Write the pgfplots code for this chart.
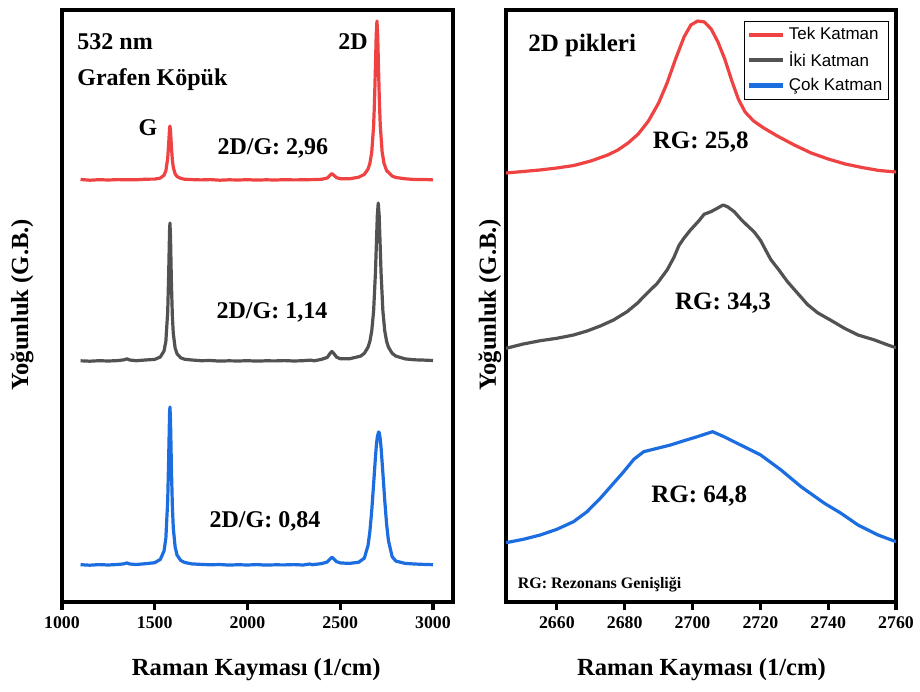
\documentclass[border=0pt]{standalone}
\usepackage{fontspec}
\setmainfont{Liberation Serif}
\newfontfamily\legfont{Liberation Sans}
\usepackage{pgfplots}
\pgfplotsset{compat=1.18}

\definecolor{tek}{RGB}{239,66,66}
\definecolor{iki}{RGB}{82,82,82}
\definecolor{cok}{RGB}{28,110,224}

\pgfplotsset{
  ramanax/.style={
    scale only axis, height=296pt, ymin=0, ymax=592,
    axis line style={line width=2pt},
    ytick=\empty, xtick pos=bottom, tick align=outside,
    major tick length=4pt,
    every tick/.style={black, line width=1.6pt},
    ticklabel style={font=\fontsize{8.9}{9}\selectfont\bfseries},
    /pgf/number format/assume math mode=true,
    /pgf/number format/1000 sep={},
    xlabel={Raman Kayması (1/cm)},
    ylabel={Yoğunluk (G.B.)},
    label style={font=\fontsize{12.3}{13}\selectfont\bfseries},
    every axis plot/.append style={no marks, line width=1.6pt, line join=round},
  },
}

\begin{document}
\begin{tikzpicture}
\path[use as bounding box] (-31pt,-44.5pt) rectangle (429pt,301pt);

% left panel: full spectra
\begin{axis}[ramanax,
  at={(0pt,0pt)}, anchor=south west,
  width=195.5pt,
  xmin=1000, xmax=3108,
  xtick={1000,1500,2000,2500,3000},
  xlabel style={at={(axis description cs:0.497,-0.115)}, anchor=center},
  ylabel style={at={(axis description cs:-0.102,0.502)}, anchor=center},
]
\addplot[tek] coordinates {
(1100,422.5) (1150,421.8) (1200,422.3) (1250,422.0) (1300,422.4) (1350,422.2)
(1400,422.2) (1450,422.8) (1500,422.9) (1530,423.9) (1550,426.8) (1560,431.2)
(1570,444) (1575,458) (1580,474) (1582,476) (1585,471.5) (1590,455) (1595,442)
(1600,434.7) (1610,428.1) (1620,425.5) (1640,423.6) (1660,422.8) (1700,422.4)
(1750,422.1) (1800,422.4) (1850,421.8) (1900,422.2) (1950,422.0) (2000,422.3)
(2050,421.9) (2100,422.2) (2150,422.0) (2200,422.3) (2250,422.1) (2300,422.2)
(2350,422.4) (2400,422.7) (2430,424) (2445,426.6) (2455,428.5) (2465,426.8)
(2480,424.4) (2500,423.3) (2550,423.2) (2600,424.8) (2630,427.6) (2650,432.9)
(2660,438.7) (2670,450) (2680,476) (2685,501.5) (2690,537) (2694,567) (2698,581)
(2702,567) (2706,537) (2711,501.5) (2716,476) (2726,450) (2736,438.7)
(2750,431.4) (2780,425.9) (2800,424.5) (2850,423.2) (2900,422.5) (2950,422.6)
(3000,422.1)
};
\addplot[iki] coordinates {
(1100,241.2) (1150,240.8) (1200,241.3) (1250,241.0) (1300,241.4) (1335,242.2)
(1350,243.2) (1365,242.0) (1400,241.3) (1450,242.0) (1500,242.6) (1530,245)
(1550,251) (1560,260.8) (1570,290.6) (1575,327) (1580,372) (1582,379) (1585,365)
(1590,318) (1595,285.7) (1600,268.6) (1610,253.9) (1620,248.3) (1640,244.2)
(1660,242.8) (1700,242.0) (1750,241.3) (1800,241.5) (1850,240.9) (1900,241.2)
(1950,241.0) (2000,241.3) (2050,240.9) (2100,241.2) (2150,241.1) (2200,241.4)
(2250,241.0) (2300,241.3) (2340,241.9) (2360,241.2) (2400,242.7) (2430,244.6)
(2445,248.5) (2455,250.6) (2465,248.6) (2480,244.9) (2500,243.3) (2550,243.2)
(2610,245.9) (2630,248.7) (2650,254.8) (2660,260.7) (2670,271.2) (2680,291)
(2690,329.9) (2695,358.4) (2700,386.4) (2705,399) (2710,386.4) (2715,358.4)
(2720,329.9) (2730,291) (2740,271.2) (2750,260.7) (2760,254.8) (2780,248.7)
(2800,245.9) (2850,243.1) (2900,242.2) (2950,241.9) (3000,241.5)
};
\addplot[cok] coordinates {
(1100,37.3) (1150,36.8) (1200,37.4) (1250,37.0) (1300,37.5) (1335,38.2)
(1350,39.1) (1365,38.0) (1400,37.5) (1450,38.3) (1500,39.3) (1530,42.6)
(1550,51) (1560,64) (1570,102) (1575,143) (1580,189) (1582,195) (1585,182)
(1590,133) (1595,96) (1600,74) (1610,55) (1620,47) (1640,41.6) (1660,39.6)
(1700,38.1) (1750,37.6) (1800,37.2) (1850,37.5) (1900,36.9) (1950,37.3)
(2000,37.0) (2050,37.4) (2100,36.9) (2150,37.2) (2200,37.1) (2250,37.4)
(2300,37.0) (2335,38.0) (2350,37.3) (2400,38.4) (2430,40.0) (2445,43.0)
(2455,44.8) (2465,43.2) (2480,40.4) (2500,39.1) (2550,38.6) (2600,39.8)
(2630,43.9) (2650,56.6) (2660,70.7) (2670,91.6) (2680,118) (2690,145)
(2695,157) (2700,165) (2704,168) (2707,170) (2710,169.5) (2715,164) (2720,155)
(2730,129) (2740,101.6) (2750,78) (2760,61.4) (2780,45.3) (2800,40.9)
(2850,38.6) (2900,38) (2950,37.6) (3000,37.3)
};
\begin{scope}[font=\fontsize{12}{13}\selectfont\bfseries]
\node[anchor=west] at (axis cs:1045,560) {532 nm};
\node[anchor=west] at (axis cs:1045,522) {Grafen Köpük};
\node at (axis cs:1463,474) {G};
\node at (axis cs:2569,560) {2D};
\node at (axis cs:2137,454) {2D/G: 2,96};
\node at (axis cs:2132,290) {2D/G: 1,14};
\node at (axis cs:2094,81) {2D/G: 0,84};
\end{scope}
\end{axis}

% right panel: 2D peaks
\begin{axis}[ramanax,
  at={(222pt,0pt)}, anchor=south west,
  width=195pt,
  xmin=2645, xmax=2760,
  xtick={2660,2680,2700,2720,2740,2760},
  xlabel style={at={(axis description cs:0.501,-0.115)}, anchor=center},
  ylabel style={at={(axis description cs:-0.041,0.502)}, anchor=center},
  legend style={at={(0.982,0.982)}, anchor=north east, draw=black,
    line width=0.6pt, font=\legfont\fontsize{8.5}{9.5}\selectfont,
    inner sep=1pt, row sep=0.4pt, cells={anchor=west}},
  legend image code/.code={\draw[#1, line width=2.2pt] (0pt,0pt) -- (17pt,0pt);},
]
\addplot[tek] coordinates {
(2645,429) (2650,430.5) (2655,432) (2660,434) (2665,436.5) (2670,441) (2675,447)
(2678,452) (2681,459) (2684,468) (2687,481) (2690,499) (2692.5,519) (2695,543)
(2697.5,565) (2699.5,577) (2701.5,581) (2703.5,580) (2705.5,573) (2707.5,560)
(2709.5,543) (2711.5,522) (2713.5,503) (2715.5,490) (2718,481) (2721,474)
(2725,466) (2730,457) (2735,449) (2740,443) (2745,438) (2750,434.5)
(2755,431.5) (2760,430)
};
\addlegendentry{Tek Katman}
\addplot[iki] coordinates {
(2645,253.7) (2650.1,258) (2655.1,261.3) (2660,263.7) (2664.9,267) (2668.9,271)
(2672.8,276) (2676.7,282) (2680.7,290.3) (2683.7,298.7) (2686.6,308.7)
(2689.6,318.7) (2692.5,332) (2694.5,344.5) (2696.0,356.5) (2697.5,364)
(2699.4,372) (2701.9,381.3) (2703.4,387.7) (2705.4,390.3) (2707.3,393.7)
(2709.0,397) (2710.3,395.3) (2712.3,390.3) (2714.2,383) (2716.2,376.3)
(2718.2,370) (2720.1,361.3) (2721.6,351.7) (2723.1,342.3) (2725.1,333.7)
(2728.0,320.3) (2731.0,308.7) (2733.9,297.5) (2736.9,289.2) (2740.9,281.5)
(2744.8,273.7) (2748.8,267) (2753.7,262) (2757.6,257) (2760,254.3)
};
\addlegendentry{İki Katman}
\addplot[cok] coordinates {
(2645,59.3) (2650.1,62.7) (2655.1,67) (2660,72.7) (2664.9,80.3) (2668.9,90.3)
(2672.8,103.7) (2676.7,118.7) (2679.7,130.3) (2682.7,142.7) (2685.6,150.3)
(2689.6,153.7) (2693.5,157) (2697.5,161.3) (2701.4,165.3) (2705.9,170.3)
(2709.3,165.3) (2715.2,155.3) (2720.1,147) (2726.1,132) (2732.0,115.3)
(2738.9,98.7) (2743.8,88.7) (2748.8,77) (2754.7,67) (2760,60.3)
};
\addlegendentry{Çok Katman}
\begin{scope}[font=\fontsize{12.5}{13}\selectfont\bfseries]
\node[anchor=west] at (axis cs:2649.5,557) {2D pikleri};
\node at (axis cs:2702.4,460) {RG: 25,8};
\node at (axis cs:2709,299) {RG: 34,3};
\node at (axis cs:2702,106) {RG: 64,8};
\end{scope}
\node[anchor=west, font=\fontsize{8}{9}\selectfont\bfseries] at (axis cs:2646.4,17) {RG: Rezonans Genişliği};
\end{axis}
\end{tikzpicture}
\end{document}
